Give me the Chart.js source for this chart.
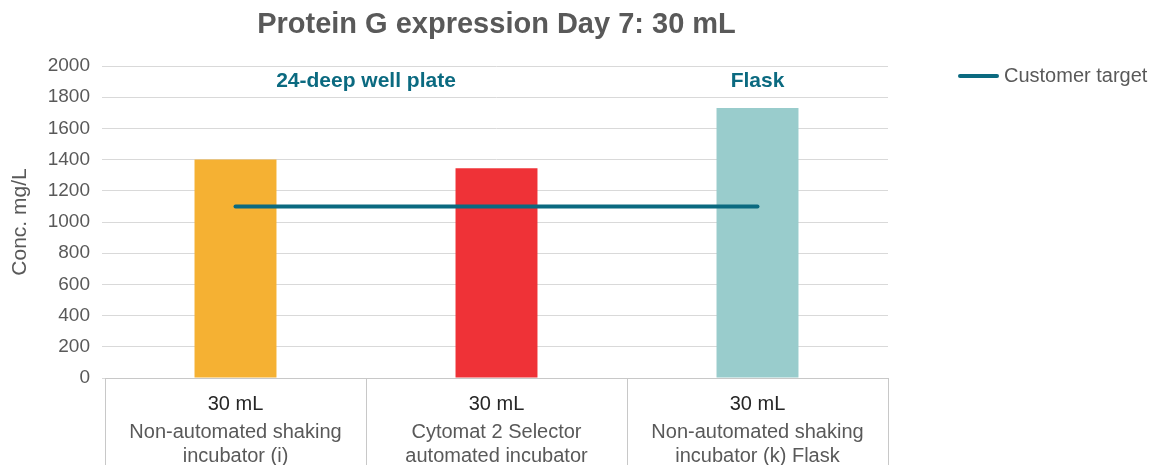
<!DOCTYPE html>
<html>
<head>
<meta charset="utf-8">
<script src="https://cdn.jsdelivr.net/npm/chart.js@4"></script>
<style>
html,body{margin:0;padding:0;background:#fff;}
#wrap{width:1154px;height:465px;position:relative;}
</style>
</head>
<body>
<div id="wrap"><canvas id="c" width="1154" height="465"></canvas></div>
<script>
const titleText = 'Protein G expression Day 7: 30 mL';
const categories = ['30 mL', '30 mL', '30 mL'];
const categoryDetails = [
  ['Non-automated shaking', 'incubator (i)'],
  ['Cytomat 2 Selector', 'automated incubator'],
  ['Non-automated shaking', 'incubator (k) Flask']
];
const concValues = [1400, 1345, 1730];
const targetValues = [1100, 1100, 1100];
const barColors = ['#F5B133', '#EF3237', '#99CCCC'];
const groupLabels = [
  { text: '24-deep well plate', at: 0.5 },
  { text: 'Flask', at: 2 }
];
const yTicks = [0, 200, 400, 600, 800, 1000, 1200, 1400, 1600, 1800, 2000];

const FONT = '"Liberation Sans", Arial, Helvetica, sans-serif';
const GREY = '#595959';
const TEAL = '#0B6A80';

const extras = {
  id: 'extras',
  afterDraw(chart) {
    const ctx = chart.ctx;
    const x = chart.scales.x;
    const ca = chart.chartArea;
    ctx.save();
    // title
    ctx.textAlign = 'center';
    ctx.textBaseline = 'alphabetic';
    ctx.fillStyle = GREY;
    ctx.font = 'bold 29px ' + FONT;
    ctx.fillText(titleText, (ca.left + ca.right) / 2, 33);
    // category labels
    categories.forEach((c, i) => {
      const px = x.getPixelForValue(i);
      ctx.fillStyle = '#262626';
      ctx.font = '20px ' + FONT;
      ctx.fillText(c, px, 410);
      ctx.fillStyle = GREY;
      categoryDetails[i].forEach((t, j) => ctx.fillText(t, px, 438 + j * 24));
    });
    // group annotations
    ctx.textBaseline = 'middle';
    ctx.fillStyle = TEAL;
    ctx.font = 'bold 21px ' + FONT;
    groupLabels.forEach(g => ctx.fillText(g.text, x.getPixelForValue(g.at), 81));
    // legend
    ctx.strokeStyle = TEAL;
    ctx.lineWidth = 4;
    ctx.lineCap = 'round';
    ctx.beginPath();
    ctx.moveTo(960, 76);
    ctx.lineTo(997, 76);
    ctx.stroke();
    ctx.fillStyle = GREY;
    ctx.font = '20px ' + FONT;
    ctx.textAlign = 'left';
    ctx.fillText('Customer target', 1004, 76);
    ctx.restore();
  }
};

new Chart(document.getElementById('c'), {
  type: 'bar',
  data: {
    labels: categories,
    datasets: [
      {
        type: 'line',
        label: 'Customer target',
        data: targetValues,
        borderColor: TEAL,
        borderWidth: 4,
        borderCapStyle: 'round',
        pointRadius: 0,
        fill: false
      },
      {
        type: 'bar',
        label: 'Conc.',
        data: concValues,
        backgroundColor: barColors,
        categoryPercentage: 1,
        barPercentage: 0.314
      }
    ]
  },
  options: {
    responsive: false,
    animation: false,
    layout: { padding: { top: 66, right: 266, left: 0, bottom: 0 } },
    plugins: {
      legend: { display: false },
      tooltip: { enabled: false },
      title: { display: false }
    },
    scales: {
      x: {
        offset: true,
        grid: { offset: true, drawOnChartArea: false, tickLength: 87, color: '#C8C8C8' },
        border: { color: '#C8C8C8' },
        ticks: { display: false },
        afterFit(s) { s.height = 87; }
      },
      y: {
        min: 0, max: 2000,
        afterBuildTicks(s) { s.ticks = yTicks.map(v => ({ value: v })); },
        grid: { color: '#D9D9D9', tickLength: 3 },
        border: { display: false },
        ticks: {
          color: GREY, padding: 12, font: { family: FONT, size: 19 },
          callback: v => String(v)
        },
        title: {
          display: true,
          text: 'Conc. mg/L',
          color: GREY,
          font: { family: FONT, size: 21 },
          padding: { top: 8, bottom: 0 }
        },
        afterFit(s) { s.width = 105; }
      }
    }
  },
  plugins: [extras]
});
</script>
</body>
</html>
